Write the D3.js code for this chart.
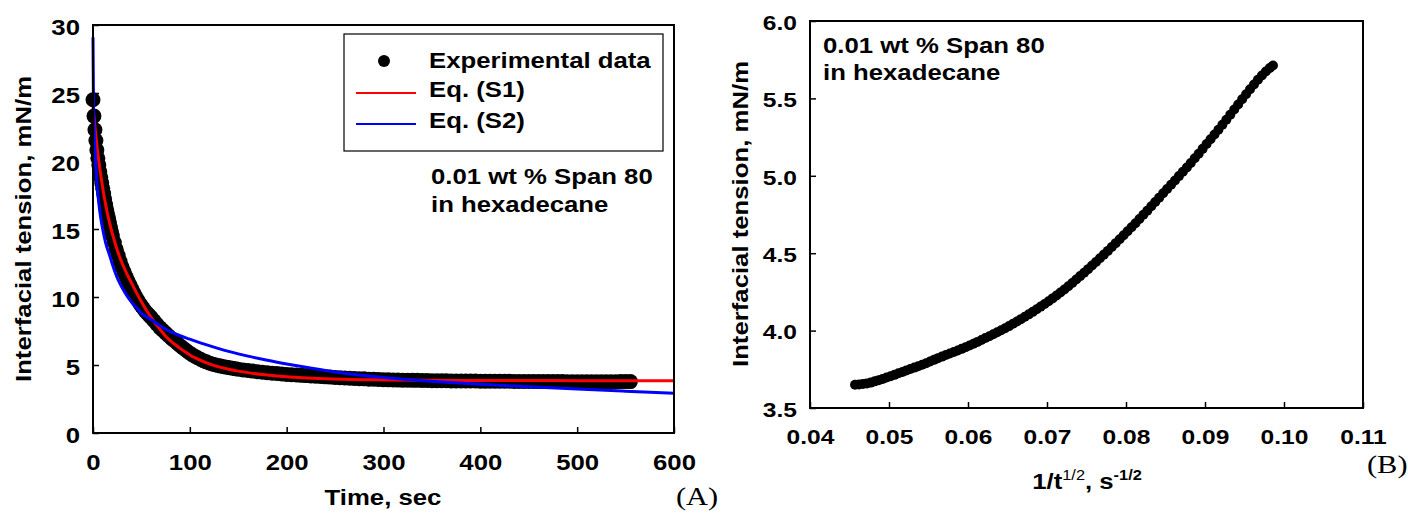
<!DOCTYPE html>
<html>
<head>
<meta charset="utf-8">
<script src="https://cdn.jsdelivr.net/npm/d3@7"></script>
<style>
  body { margin: 0; background: #fff; }
  svg { display: block; }
  text { font-family: "Liberation Sans", Arial, sans-serif; font-weight: bold; fill: #000; }
</style>
</head>
<body>
<div id="chart"></div>
<script>
// Panel A: interfacial tension vs time
var timeA = [0,1,2,3,4,5,6,7,8,9,10,11,12,13,14,15,16,17,18,19,20,
  22,24,26,28,30,32,34,36,38,40,42,44,46,48,50,52,54,56,58,60,
  63,66,69,72,75,78,81,84,87,90,93,96,99,102,105,108,111,114,117,120,
  123,126,129,132,135,138,141,144,147,150,
  155,160,165,170,175,180,185,190,195,200,205,210,215,220,225,230,235,240,245,250,
  255,260,265,270,275,280,285,290,295,300,305,310,315,320,325,330,335,340,345,350,
  355,360,365,370,375,380,385,390,395,400,405,410,415,420,425,430,435,440,445,450,
  455,460,465,470,475,480,485,490,495,500,505,510,515,520,525,530,535,540,545,550,555];
var tensionA = [24.5,23.3,22.3,21.5,20.8,20.2,19.7,19.2,18.8,18.4,18.0,17.6,17.2,16.8,16.45,16.1,15.8,15.45,15.1,14.8,14.5,
  14.0,13.5,13.05,12.6,12.2,11.85,11.5,11.2,10.9,10.6,10.3,10.05,9.8,9.55,9.35,9.15,8.95,8.8,8.65,8.5,
  8.25,8.0,7.75,7.55,7.35,7.15,6.95,6.78,6.6,6.42,6.25,6.08,5.92,5.78,5.65,5.53,5.42,5.32,5.23,5.15,
  5.08,5.02,4.97,4.92,4.88,4.84,4.8,4.76,4.72,4.69,
  4.64,4.6,4.55,4.51,4.47,4.43,4.4,4.37,4.34,4.31,4.28,4.26,4.24,4.22,4.19,4.17,4.15,4.13,4.11,4.09,
  4.07,4.05,4.03,4.01,3.99,3.98,3.96,3.95,3.93,3.92,3.91,3.9,3.89,3.88,3.88,3.87,3.87,3.86,3.86,3.85,
  3.85,3.84,3.84,3.83,3.83,3.83,3.82,3.82,3.82,3.81,3.81,3.81,3.8,3.8,3.8,3.8,3.79,3.79,3.79,3.79,
  3.79,3.78,3.78,3.78,3.78,3.78,3.78,3.77,3.77,3.77,3.77,3.77,3.77,3.77,3.77,3.77,3.77,3.77,3.78,3.78,3.78];

// Eq. (S1) fit
var timeS1 = [0,3,6,9,12,15,18,21,25,30,35,40,45,50,55,60,65,70,75,80,85,90,95,100,105,110,120,130,140,150,
  160,170,180,190,200,220,240,260,280,300,350,400,450,500,550,600];
var tensionS1 = [24.0,21.8,20.0,18.5,17.2,16.1,15.2,14.4,13.45,12.5,11.7,11.0,10.3,9.65,9.05,8.5,8.0,7.55,7.12,6.78,6.49,6.22,5.97,5.74,5.54,5.37,5.08,4.86,4.69,4.55,
  4.44,4.34,4.26,4.19,4.13,4.05,3.99,3.95,3.92,3.9,3.87,3.86,3.86,3.85,3.85,3.85];

// Eq. (S2) fit
var timeS2 = [0,0.5,1,2,3,4,6,8,10,13,17,20,26,30,35,40,45,50,55,60,70,80,90,100,110,120,130,140,150,160,
  180,200,220,240,260,280,300,330,360,400,450,500,550,600];
var tensionS2 = [29.1,24.0,22.5,20.8,19.5,18.4,16.9,15.8,15.0,14.0,13.1,12.4,11.25,10.7,10.1,9.6,9.2,8.8,8.55,8.35,7.85,7.45,7.15,6.9,6.65,6.42,6.2,6.0,5.82,5.65,
  5.35,5.08,4.83,4.6,4.4,4.23,4.08,3.9,3.75,3.58,3.4,3.23,3.07,2.92];

var xTicksA = [0,100,200,300,400,500,600];
var yTicksA = [0,5,10,15,20,25,30];

// Panel B: tension vs 1/sqrt(t)
var invRootT = [0.0457,0.0462,0.0467,0.0472,0.0477,0.0482,0.0487,0.0492,0.0497,0.0502,0.0507,0.0512,0.0517,0.0522,0.0527,
  0.0532,0.0537,0.0542,0.0547,0.0552,0.0557,0.0562,0.0567,0.0572,0.0577,0.0582,0.0587,0.0592,0.0597,0.0602,
  0.0607,0.0612,0.0617,0.0622,0.0627,0.0632,0.0637,0.0642,0.0647,0.0652,0.0657,0.0662,0.0667,0.0672,0.0677,
  0.0682,0.0687,0.0692,0.0697,0.0702,0.0707,0.0712,0.0717,0.0722,0.0727,0.0732,0.0737,0.0742,0.0747,0.0752,
  0.0757,0.0762,0.0767,0.0772,0.0777,0.0782,0.0787,0.0792,0.0797,0.0802,0.0807,0.0812,0.0817,0.0822,0.0827,
  0.0832,0.0837,0.0842,0.0847,0.0852,0.0857,0.0862,0.0867,0.0872,0.0877,0.0882,0.0887,0.0892,0.0897,0.0902,
  0.0907,0.0912,0.0917,0.0922,0.0927,0.0932,0.0937,0.0942,0.0947,0.0952,0.0957,0.0962,0.0967,0.0972,0.0977,
  0.0982,0.0986];
var tensionB = [3.650,3.652,3.655,3.658,3.664,3.672,3.680,3.688,3.697,3.705,3.714,3.724,3.733,3.743,3.752,
  3.761,3.770,3.779,3.789,3.800,3.811,3.822,3.832,3.842,3.852,3.862,3.872,3.882,3.893,3.904,
  3.915,3.927,3.939,3.952,3.964,3.976,3.989,4.002,4.015,4.029,4.044,4.059,4.074,4.089,4.105,
  4.121,4.138,4.155,4.172,4.190,4.208,4.227,4.246,4.266,4.287,4.308,4.330,4.352,4.374,4.397,
  4.420,4.443,4.467,4.491,4.515,4.540,4.565,4.590,4.616,4.642,4.668,4.694,4.721,4.748,4.775,
  4.803,4.831,4.859,4.887,4.915,4.942,4.970,4.998,5.026,5.054,5.083,5.113,5.143,5.174,5.205,
  5.236,5.267,5.298,5.330,5.362,5.395,5.428,5.461,5.494,5.527,5.559,5.590,5.620,5.648,5.674,
  5.696,5.712];

var xTicksB = [0.04,0.05,0.06,0.07,0.08,0.09,0.10,0.11];
var yTicksB = [3.5,4.0,4.5,5.0,5.5,6.0];

// text in the original is wider than Arial, stretch it a bit
var SX = 1.17;

var svg = d3.select("#chart").append("svg")
    .attr("width", 1408)
    .attr("height", 521);

function addText(x, y, str, size, rot, anchor) {
    return svg.append("text")
        .attr("transform", `translate(${x},${y}) rotate(${rot || 0}) scale(${SX},1)`)
        .attr("text-anchor", anchor || "start")
        .style("font-size", size + "px")
        .text(str);
}

function styleAxis(g, size, tx, ty, anchor, dy) {
    g.select(".domain").remove();
    g.selectAll(".tick line").attr("stroke", "#000").attr("stroke-width", 1.5);
    g.selectAll(".tick text")
        .attr("x", 0).attr("y", 0).attr("dy", dy)
        .attr("text-anchor", anchor)
        .attr("transform", `translate(${tx},${ty}) scale(${SX},1)`)
        .style("font-size", size + "px");
}

// ---------- panel A ----------
var xA = d3.scaleLinear().domain([0, 600]).range([93, 674]);
var yA = d3.scaleLinear().domain([0, 30]).range([433, 25]);

svg.append("g").attr("transform", "translate(0,433)")
    .call(d3.axisBottom(xA).tickValues(xTicksA).tickSize(-6).tickFormat(d3.format("d")))
    .call(g => styleAxis(g, 22, 0, 37, "middle", "0"));

svg.append("g").attr("transform", "translate(93,0)")
    .call(d3.axisLeft(yA).tickValues(yTicksA).tickSize(-6).tickFormat(d3.format("d")))
    .call(g => styleAxis(g, 22, -13, 2, "end", "0.35em"));

svg.append("g").selectAll("circle")
    .data(timeA.map((t, i) => [t, tensionA[i]]))
    .enter()
    .append("circle")
    .attr("cx", d => xA(d[0]))
    .attr("cy", d => yA(d[1]))
    .attr("r", 7.5)
    .attr("fill", "#000");

var lineA = d3.line().x(d => xA(d[0])).y(d => yA(d[1])).curve(d3.curveMonotoneX);

svg.append("path")
    .datum(timeS1.map((t, i) => [t, tensionS1[i]]))
    .attr("d", lineA)
    .attr("fill", "none")
    .attr("stroke", "#ff0000")
    .attr("stroke-width", 3);

svg.append("path")
    .datum(timeS2.map((t, i) => [t, tensionS2[i]]))
    .attr("d", lineA)
    .attr("fill", "none")
    .attr("stroke", "#0000ff")
    .attr("stroke-width", 3);

svg.append("rect")
    .attr("x", 93).attr("y", 25)
    .attr("width", 674 - 93).attr("height", 433 - 25)
    .attr("fill", "none").attr("stroke", "#000").attr("stroke-width", 2);

// legend
svg.append("rect")
    .attr("x", 344).attr("y", 34).attr("width", 319).attr("height", 117)
    .attr("fill", "#fff").attr("stroke", "#000").attr("stroke-width", 1.2);
svg.append("circle").attr("cx", 384).attr("cy", 61).attr("r", 6).attr("fill", "#000");
svg.append("line").attr("x1", 356).attr("x2", 416).attr("y1", 93).attr("y2", 93)
    .attr("stroke", "#ff0000").attr("stroke-width", 2);
svg.append("line").attr("x1", 356).attr("x2", 416).attr("y1", 124).attr("y2", 124)
    .attr("stroke", "#0000ff").attr("stroke-width", 2);
addText(429, 68, "Experimental data", 22);
addText(429, 97, "Eq. (S1)", 22);
addText(429, 128, "Eq. (S2)", 22);

addText(431, 184, "0.01 wt % Span 80", 22);
addText(431, 212, "in hexadecane", 22);

addText(383, 505, "Time, sec", 22, 0, "middle");
addText(31, 229, "Interfacial tension, mN/m", 22, -90, "middle");
addText(676, 505, "(A)", 26).style("font-family", "'Liberation Serif', 'Times New Roman', serif")
    .style("font-weight", "normal");

// ---------- panel B ----------
var xB = d3.scaleLinear().domain([0.04, 0.11]).range([810, 1363]);
var yB = d3.scaleLinear().domain([3.5, 6.0]).range([408, 21]);

svg.append("g").attr("transform", "translate(0,408)")
    .call(d3.axisBottom(xB).tickValues(xTicksB).tickSize(-6).tickFormat(d3.format(".2f")))
    .call(g => styleAxis(g, 21, 0, 36, "middle", "0"));

svg.append("g").attr("transform", "translate(810,0)")
    .call(d3.axisLeft(yB).tickValues(yTicksB).tickSize(-6).tickFormat(d3.format(".1f")))
    .call(g => styleAxis(g, 21, -13, 1, "end", "0.35em"));

svg.append("g").selectAll("circle")
    .data(invRootT.map((x, i) => [x, tensionB[i]]))
    .enter()
    .append("circle")
    .attr("cx", d => xB(d[0]))
    .attr("cy", d => yB(d[1]))
    .attr("r", 5)
    .attr("fill", "#000");

svg.append("rect")
    .attr("x", 810).attr("y", 21)
    .attr("width", 1363 - 810).attr("height", 408 - 21)
    .attr("fill", "none").attr("stroke", "#000").attr("stroke-width", 2);

addText(823, 53, "0.01 wt % Span 80", 22);
addText(823, 80, "in hexadecane", 22);

var titleB = addText(1087, 489, "", 22, 0, "middle");
titleB.append("tspan").text("1/t");
titleB.append("tspan").attr("dy", -9).style("font-size", "14px").style("font-weight", "normal").text("1/2");
titleB.append("tspan").attr("dy", 9).text(", s");
titleB.append("tspan").attr("dy", -9).style("font-size", "14px").text("-1/2");

addText(748, 214, "Interfacial tension, mN/m", 22, -90, "middle");
addText(1367, 473, "(B)", 26).style("font-family", "'Liberation Serif', 'Times New Roman', serif")
    .style("font-weight", "normal");
</script>
</body>
</html>
